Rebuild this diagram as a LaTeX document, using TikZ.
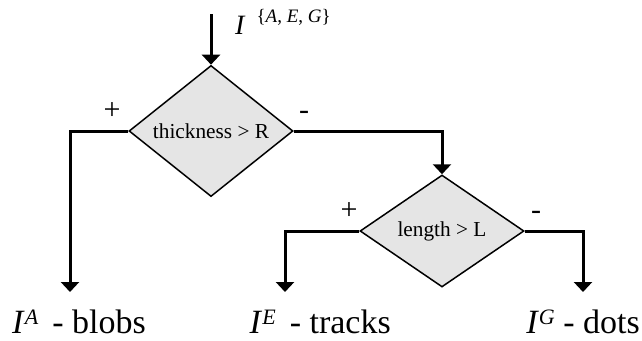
\documentclass[tikz,border=0pt]{standalone}
\usepackage{fontspec}
\setmainfont{Liberation Serif}
\usetikzlibrary{shapes.geometric,arrows.meta}
\begin{document}
\begin{tikzpicture}[x=1pt,y=-1pt,
  decision/.style={diamond, draw, line width=1.5pt, fill=black!10, minimum width=164pt, minimum height=112pt, inner sep=0pt, font=\fontsize{21.3}{24}\selectfont},
  flow/.style={line width=3pt, -{Triangle[width=18pt,length=10pt]}},
  sign/.style={font=\fontsize{30}{32}\selectfont, inner sep=0pt, anchor=base},
  outlabel/.style={font=\fontsize{34}{38}\selectfont, inner sep=0pt}]
\useasboundingbox (0,0) rectangle (642,340);
\coordinate (in) at (211,14);
\node[decision] (d1) at (211,131) {thickness > R\hspace{10pt}};
\node[decision] (d2) at (442,231) {length > L};
\coordinate (oA) at (70,292);
\coordinate (oE) at (285,292);
\coordinate (oG) at (583,292);
\draw[flow] (in) -- (d1.north);
\draw[flow] (d1.west) -| (oA);
\draw[flow] (d1.east) -| (d2.north);
\draw[flow] (d2.west) -| (oE);
\draw[flow] (d2.east) -| (oG);
\node[sign] (p1) at (112,119) {+};
\node[sign] (m1) at (304,119) {-};
\node[sign] (p2) at (349,219) {+};
\node[sign] (m2) at (536,219) {-};
\node[anchor=base west, inner sep=0pt, font=\fontsize{28}{30}\selectfont] (lin) at (235,34)
  {\textit{I}\hspace{11pt}\raisebox{12pt}{\fontsize{19}{19}\selectfont\{\textit{A}, \textit{E}, \textit{G}\}}};
\node[outlabel, anchor=base west] (lA) at (12,333)
  {\textit{I}\raisebox{9pt}{\fontsize{22}{22}\selectfont\textit{A}}\hspace{14pt}- blobs};
\node[outlabel, anchor=base east] (lE) at (391,333)
  {\textit{I}\raisebox{9pt}{\fontsize{22}{22}\selectfont\textit{E}}\hspace{14pt}- tracks};
\node[outlabel, anchor=base east] (lG) at (640,333)
  {\textit{I}\raisebox{9pt}{\fontsize{22}{22}\selectfont\textit{G}} - dots};
\end{tikzpicture}
\end{document}
